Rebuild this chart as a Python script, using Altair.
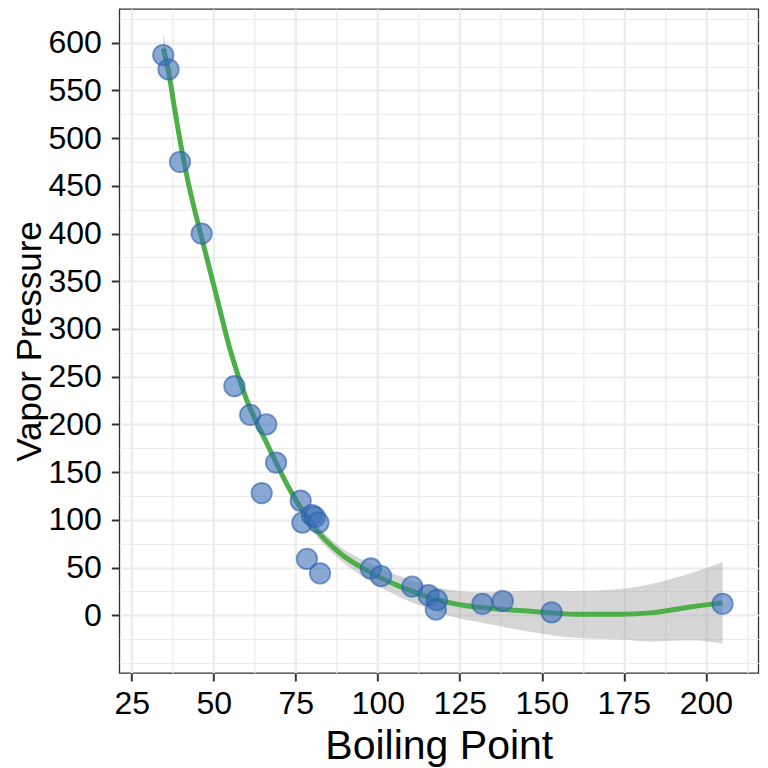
import pandas as pd
import altair as alt

# Data points
boiling_point = [34.6, 36.2, 39.7, 46.3, 56.3, 61.1, 66.0, 69.0, 64.6, 76.5, 77.0,
                 79.9, 80.8, 81.9, 78.4, 82.4, 97.9, 101.0, 110.5, 115.5, 118.0,
                 117.7, 131.9, 138.1, 153.0, 205.1]
vapor_pressure = [587, 572, 475, 400, 240, 210, 200, 160, 128, 120, 97,
                  105, 103, 97, 59, 44, 49, 41, 30, 21, 16,
                  6, 12, 15, 3, 12]

# Smoothed fit and its confidence band
fit_x = [34.6, 36.2, 38, 40, 42, 44, 46, 51, 55, 60, 66.2, 73.3, 80.4, 88.5, 96.6,
         106.8, 117, 125, 132, 149.5, 160, 174, 183, 195.2, 205.1]
fit_y = [594, 570, 532, 492, 457, 427, 400, 332, 278, 226, 180, 131, 93, 65, 47,
         30, 17.5, 11, 8, 3.5, 1, 1, 2.5, 8.7, 13]
fit_halfwidth = [17, 9, 6.5, 6, 6, 5.5, 5.5, 5, 5, 5, 5, 5, 6, 7, 9,
                 11, 12.5, 14.5, 16, 22.5, 24.5, 26.5, 30, 35, 42.5]

x_ticks = [25, 50, 75, 100, 125, 150, 175, 200]
y_ticks = [0, 50, 100, 150, 200, 250, 300, 350, 400, 450, 500, 550, 600]

# grid lines: majors plus the minor lines halfway between
x_grid = sorted(x_ticks + [t + 12.5 for t in x_ticks])
y_grid = sorted([-50, -25] + y_ticks + [t + 25 for t in y_ticks])

pts = pd.DataFrame({'bp': boiling_point, 'vp': vapor_pressure})
fit = pd.DataFrame({
    'bp': fit_x,
    'vp': fit_y,
    'lo': [y - h for y, h in zip(fit_y, fit_halfwidth)],
    'hi': [y + h for y, h in zip(fit_y, fit_halfwidth)],
})

x_major = "datum.value % 25 === 0"
y_major = "datum.value >= 0 && datum.value % 50 === 0"

x_scale = alt.Scale(domain=[21.2, 216.0], nice=False, zero=False)
y_scale = alt.Scale(domain=[-60.5, 635.3], nice=False, zero=False)

x_axis = alt.Axis(values=x_grid,
                  labelExpr="datum.value % 25 === 0 ? datum.label : ''",
                  gridWidth={"condition": {"test": x_major, "value": 2.2}, "value": 1.2},
                  tickOpacity={"condition": {"test": x_major, "value": 1}, "value": 0},
                  labelPadding=7, titleY=85, titleBaseline='alphabetic')
y_axis = alt.Axis(values=y_grid,
                  labelExpr="datum.value >= 0 && datum.value % 50 === 0 ? datum.label : ''",
                  gridWidth={"condition": {"test": y_major, "value": 2.2}, "value": 1.2},
                  tickOpacity={"condition": {"test": y_major, "value": 1}, "value": 0},
                  labelPadding=10, titleX=-79.3, titleFontSize=35,
                  titleBaseline='alphabetic')

x_enc = alt.X('bp:Q', title='Boiling Point', scale=x_scale, axis=x_axis)

band = alt.Chart(fit).mark_area(color='#999999', opacity=0.4, interpolate='monotone').encode(
    x=x_enc,
    y=alt.Y('lo:Q', title='Vapor Pressure', scale=y_scale, axis=y_axis),
    y2='hi:Q'
)

line = alt.Chart(fit).mark_line(color='#4daf4a', strokeWidth=5, interpolate='monotone').encode(
    x=x_enc,
    y=alt.Y('vp:Q', title='Vapor Pressure', scale=y_scale, axis=y_axis)
)

points = alt.Chart(pts).mark_circle(size=420, fill='#3a6fb8', fillOpacity=0.6,
                                    stroke='#2a5ea8', strokeOpacity=0.6,
                                    strokeWidth=1.8).encode(
    x=x_enc,
    y=alt.Y('vp:Q', title='Vapor Pressure', scale=y_scale, axis=y_axis)
)

chart = alt.layer(band, line, points).properties(
    width=639,
    height=664,
    autosize=alt.AutoSizeParams(type='none'),
    padding={'left': 111.3, 'top': 1, 'right': 1.7, 'bottom': 94},
).configure_view(
    stroke='#333333', strokeWidth=1.3
).configure_axis(
    domain=False,
    gridColor='#ebebeb',
    tickColor='#333333',
    tickWidth=2,
    tickSize=8,
    labelFont='Liberation Sans',
    labelFontSize=32,
    labelColor='#000000',
    titleFont='Liberation Sans',
    titleFontSize=41,
    titleFontWeight='normal',
    titleColor='#000000',
)

chart.save("out.html", embed_options={"renderer": "svg", "actions": False})
